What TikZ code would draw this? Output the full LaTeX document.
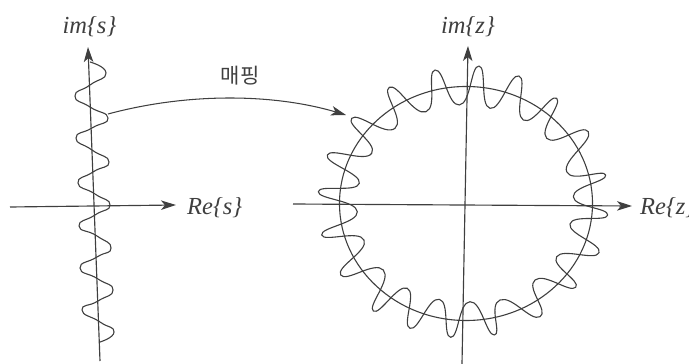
\documentclass[tikz,border=0pt]{standalone}
\usepackage{fontspec}
\setmainfont{Liberation Serif}
\newfontfamily\krfont{Noto Sans CJK KR}
\usetikzlibrary{arrows.meta}
\definecolor{ink}{HTML}{3F3F3F}
\tikzset{
  curveline/.style={draw=ink,line width=1.1pt,line join=round},
  axisline/.style={draw=ink,line width=1.15pt,-{Stealth[length=15pt,width=9.5pt,inset=4pt]}},
  axislabel/.style={text=ink,font=\fontsize{24.5}{26}\selectfont\itshape,inner sep=0pt},
  hangul/.style={text=ink,font=\krfont\fontsize{21}{24}\selectfont,inner sep=0pt},
}
\begin{document}
\begin{tikzpicture}[x=1pt,y=-1pt]
\useasboundingbox (0,0) rectangle (689,364);
% axis ends
\coordinate (sW) at (10,207);  \coordinate (sE) at (176,205);
\coordinate (sS) at (100,361); \coordinate (sN) at (88,47);
\coordinate (zW) at (293,204); \coordinate (zE) at (632,206);
\coordinate (zS) at (462,364); \coordinate (zN) at (468,46);
\coordinate (mapA) at (108,114); \coordinate (mapB) at (346,115);
% s-plane serpentine
\draw[curveline] plot[smooth,tension=1.05] coordinates {
 (90,62) (106,73) (90,85) (75,96) (90,107) (108,118) (92,128) (76,138) (92,150)
 (109,162) (93,172) (78,183) (95,194) (110,205) (95,215) (79,226) (97,236)
 (111,248) (97,257) (80,268) (98,279) (113,290) (98,301) (82,310) (100,322)
 (114,332) (100,342)};
% z-plane circle
\draw[curveline] (466,203.5) ellipse [x radius=126.5,y radius=117];
% z-plane wiggle
\draw[curveline] plot[smooth cycle,tension=0.95] coordinates {
 (318.3,191.7) (359.3,183.3) (327.3,155) (371.7,153.3) (351.7,118.3) (395,128.3)
 (389.3,87.3) (426,111.7) (435,70) (459.3,105) (479,66) (490,108.3) (519,76)
 (523.3,120) (556.7,98.3) (546.7,138.3) (588.3,131.7) (566.7,171.7) (605.7,175)
 (573.3,196.7) (607.7,215) (570,224) (599,252.7) (556.7,256.7) (575.7,287.3)
 (535,280) (540,316.7) (500,300) (494.3,335) (470,301.7) (450.7,337.3)
 (439.3,299.3) (410,328.3) (407.3,288.3) (373.3,311) (383.3,270) (340.7,275)
 (364,240) (321.7,235) (357.3,211.7)};
% axes
\draw[axisline] (sW) -- (sE);
\draw[axisline] (sS) -- (sN);
\draw[axisline] (zW) -- (zE);
\draw[axisline] (zS) -- (zN);
% mapping connector
\draw[axisline,line width=1.05pt] (mapA) .. controls (190,92) and (275,94) .. (mapB);
% labels
\node[axislabel,anchor=base] (ims) at (89.5,34) {im\{s\}};
\node[axislabel,anchor=base] (imz) at (468,34) {im\{z\}};
\node[axislabel,anchor=base west] (res) at (187,214) {Re\{s\}};
\node[axislabel,anchor=base west] (rez) at (640,214) {Re\{z\}};
\node[hangul] (map) at (240,76) {매핑};
\end{tikzpicture}
\end{document}
